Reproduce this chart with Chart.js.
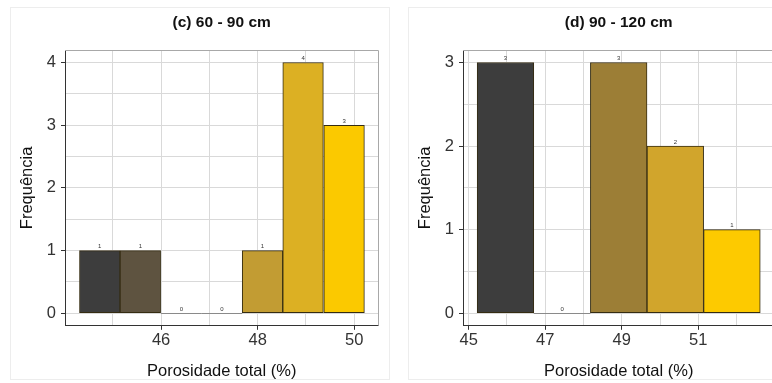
<!DOCTYPE html>
<html>
<head>
<meta charset="utf-8">
<script src="https://cdn.jsdelivr.net/npm/chart.js@4.4.0/dist/chart.umd.min.js"></script>
<style>
body { margin: 0; background: #fff; overflow: hidden; width: 772px; height: 383px; position: relative; }
.panel { position: absolute; border: 1px solid #ededed; }
canvas { position: absolute; top: 0; }
</style>
</head>
<body>
<div class="panel" style="left:10px;top:7px;width:378px;height:371px"></div>
<div class="panel" style="left:408px;top:7px;width:400px;height:371px"></div>
<canvas id="chartC" width="395" height="383" style="left:0"></canvas>
<canvas id="chartD" width="395" height="383" style="left:398px"></canvas>
<script>
//(c) 60 - 90 cm
var binsC = [44.73, 45.57, 46.42, 47.26, 48.10, 48.94, 49.79];
var countsC = [1, 1, 0, 0, 1, 4, 3];
var colorsC = ["#3d3d3d", "#5e5340", "#7d6a3e", "#9c7f39", "#c29c33", "#dcb023", "#fbc900"];
var xLabelsC = [46, 48, 50];
var xMinorC = [45, 47, 49];
var yTicksC = [0, 0.5, 1, 1.5, 2, 2.5, 3, 3.5, 4];
var yLabelsC = [0, 1, 2, 3, 4];
var xRangeC = [44.01, 50.50];
var yRangeC = [-0.2, 4.2];

//(d) 90 - 120 cm
var binsD = [45.96, 47.44, 48.92, 50.40, 51.88];
var countsD = [3, 0, 3, 2, 1];
var colorsD = ["#3d3d3d", "#6e5f3c", "#9c7e36", "#d1a52c", "#fdca00"];
var xLabelsD = [45, 47, 49, 51];
var xMinorD = [46, 48, 50, 52];
var yTicksD = [0, 0.5, 1, 1.5, 2, 2.5, 3];
var yLabelsD = [0, 1, 2, 3];
var xRangeD = [44.85, 52.99];
var yRangeD = [-0.15, 3.15];

var FONT = "'Liberation Sans', Arial, sans-serif";

//draws panel title, plot frame, count labels and the flat zero bins
var histExtras = {
	id: 'histExtras',
	afterDatasetsDraw: function( chart ){
		var ctx = chart.ctx;
		var meta = chart.getDatasetMeta(0);
		var data = chart.data.datasets[0].data;
		ctx.save();
		ctx.font = "6px " + FONT;
		ctx.textAlign = "center";
		ctx.textBaseline = "middle";
		for( var i = 0; i < meta.data.length; i++ ){
			var bar = meta.data[i];
			var v = data[i].y;
			if( v === 0 ){
				ctx.strokeStyle = "#8a8a8a";
				ctx.lineWidth = 1;
				ctx.beginPath();
				ctx.moveTo( bar.x - bar.width / 2, Math.round(bar.base) + 0.5 );
				ctx.lineTo( bar.x + bar.width / 2, Math.round(bar.base) + 0.5 );
				ctx.stroke();
			}
			ctx.fillStyle = "#333";
			ctx.fillText( String(v), bar.x, bar.y - 4 );
		}
		ctx.restore();
	},
	afterDraw: function( chart ){
		var ctx = chart.ctx, a = chart.chartArea;
		ctx.save();
		//top and right frame
		ctx.strokeStyle = "#a8a8a8";
		ctx.lineWidth = 1;
		ctx.beginPath();
		ctx.moveTo( a.left, Math.round(a.top) + 0.5 );
		ctx.lineTo( Math.round(a.right) + 0.5, Math.round(a.top) + 0.5 );
		ctx.lineTo( Math.round(a.right) + 0.5, a.bottom );
		ctx.stroke();
		//title
		ctx.fillStyle = "#111";
		ctx.font = "bold 15.5px " + FONT;
		ctx.textAlign = "center";
		ctx.textBaseline = "middle";
		ctx.fillText( chart.options.plugins.histExtras.title, (a.left + a.right) / 2, 23 );
		ctx.restore();
	}
};

function makeHist( canvasId, title, bins, counts, colors, xLabels, xMinor, yTicks, yLabels, xRange, yRange, padRight ){
	var points = [];
	for( var i = 0; i < bins.length; i++ )
		points.push( { x: bins[i], y: counts[i] } );

	var ctx = document.getElementById( canvasId ).getContext('2d');
	return new Chart( ctx, {
		type: 'bar',
		data: {
			datasets: [{
				data: points,
				backgroundColor: colors,
				borderColor: "#352c12",
				borderWidth: 1,
				borderSkipped: false,
				barPercentage: 1,
				categoryPercentage: 1
			}]
		},
		options: {
			responsive: false,
			animation: false,
			layout: { padding: { top: 50, right: padRight, left: 0, bottom: 0 } },
			plugins: {
				legend: { display: false },
				tooltip: { enabled: false },
				histExtras: { title: title }
			},
			scales: {
				//minor vertical grid only
				xminor: {
					type: 'linear',
					position: 'bottom',
					offset: false,
					min: xRange[0],
					max: xRange[1],
					afterBuildTicks: function( scale ){
						scale.ticks = xMinor.map( function(v){ return { value: v }; } );
					},
					afterFit: function( scale ){ scale.height = 0; },
					ticks: { display: false },
					grid: { offset: false, color: "#d9d9d9", drawTicks: false },
					border: { display: false }
				},
				x: {
					type: 'linear',
					offset: false,
					min: xRange[0],
					max: xRange[1],
					afterBuildTicks: function( scale ){
						scale.ticks = xLabels.map( function(v){ return { value: v }; } );
					},
					afterFit: function( scale ){ scale.height = 57.2; },
					ticks: {
						autoSkip: false,
						maxRotation: 0,
						padding: 1,
						color: "#333",
						font: { family: FONT, size: 16.5 }
					},
					grid: {
						offset: false,
						color: "#d9d9d9",
						tickLength: 4,
						tickColor: "#333"
					},
					border: { display: true, color: "#333", width: 1 },
					title: {
						display: true,
						text: "Porosidade total (%)",
						color: "#111",
						font: { family: FONT, size: 16.5 },
						padding: { top: 0, bottom: 2 }
					}
				},
				y: {
					min: yRange[0],
					max: yRange[1],
					afterBuildTicks: function( scale ){
						scale.ticks = yTicks.map( function(v){ return { value: v }; } );
					},
					afterFit: function( scale ){ scale.width = 65; },
					ticks: {
						autoSkip: false,
						padding: 5,
						color: "#333",
						font: { family: FONT, size: 16.5 },
						callback: function( value ){ return yLabels.indexOf(value) >= 0 ? value : ''; }
					},
					grid: {
						color: "#d9d9d9",
						tickLength: 4,
						tickColor: function( c ){
							return ( c.tick && yLabels.indexOf(c.tick.value) >= 0 ) ? "#333" : "rgba(0,0,0,0)";
						}
					},
					border: { display: true, color: "#333", width: 1 },
					title: {
						display: true,
						text: "Frequência",
						color: "#111",
						font: { family: FONT, size: 16.5 },
						padding: { top: 18, bottom: 0 }
					}
				}
			}
		},
		plugins: [ histExtras ]
	});
}

makeHist( "chartC", "(c) 60 - 90 cm", binsC, countsC, colorsC, xLabelsC, xMinorC, yTicksC, yLabelsC, xRangeC, yRangeC, 16.6 );
makeHist( "chartD", "(d) 90 - 120 cm", binsD, countsD, colorsD, xLabelsD, xMinorD, yTicksD, yLabelsD, xRangeD, yRangeD, 18.6 );
</script>
</body>
</html>
